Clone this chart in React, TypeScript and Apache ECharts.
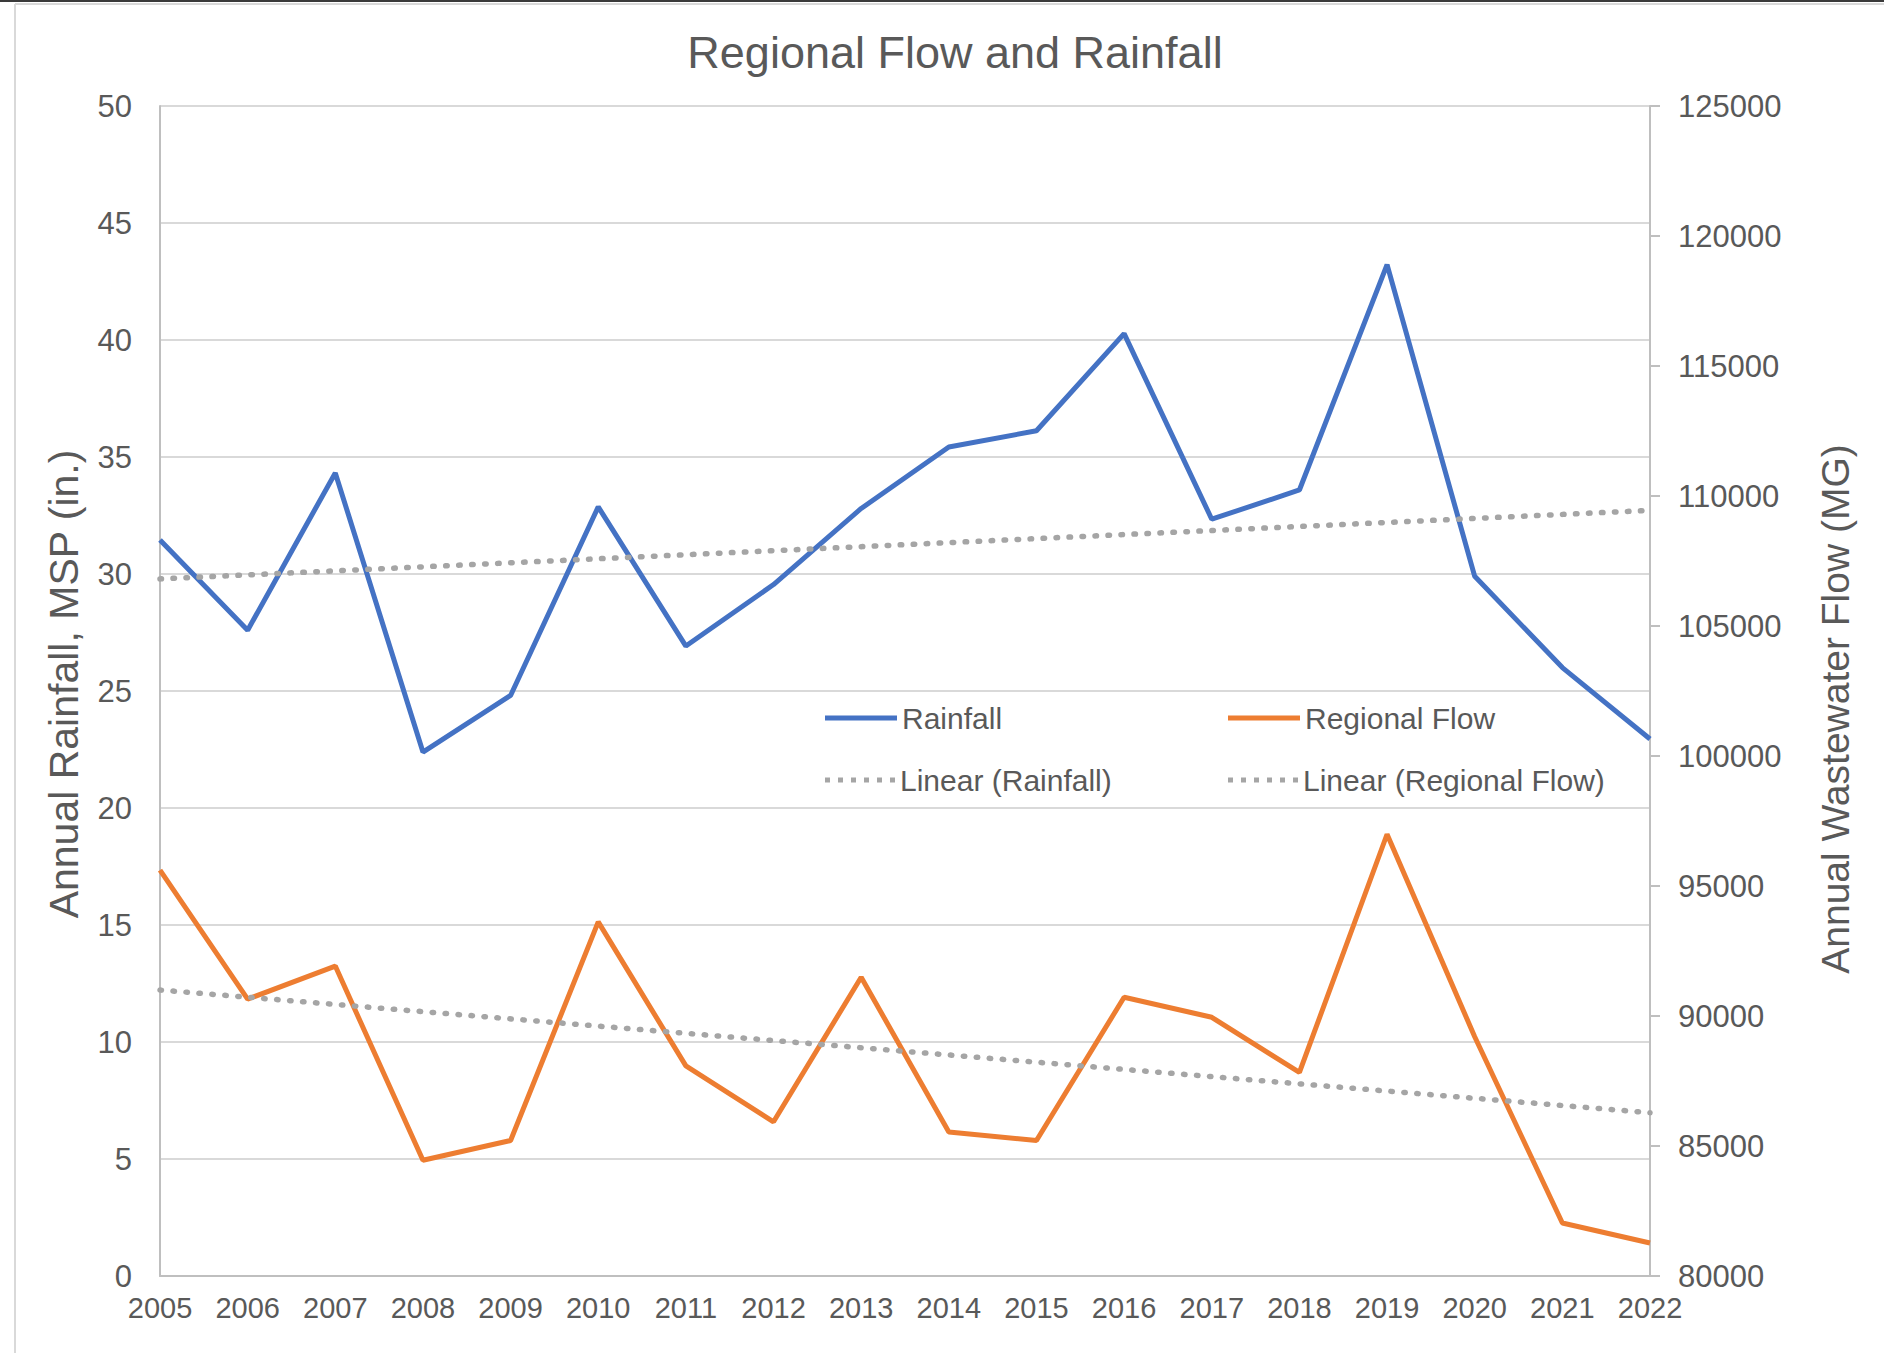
import React, { useEffect, useRef } from "react";
import * as echarts from "echarts";

const years = ["2005", "2006", "2007", "2008", "2009", "2010", "2011", "2012", "2013", "2014", "2015", "2016", "2017", "2018", "2019", "2020", "2021", "2022"];
const rainfall = [31.45, 27.6, 34.32, 22.39, 24.81, 32.87, 26.92, 29.55, 32.8, 35.43, 36.12, 40.27, 32.34, 33.59, 43.22, 29.9, 26.0, 22.95];
const regionalFlow = [95610, 90650, 91920, 84450, 85210, 93620, 88080, 85930, 91490, 85540, 85210, 90720, 89950, 87830, 96990, 89200, 82040, 81270];
const trendYears = ["2005", "2022"];
const rainfallTrend = [29.79, 32.72];
const flowTrend = [91000, 86280];

const FONT = "'Liberation Sans', Arial, sans-serif";
const TEXT = "#595959";
const BLUE = "#4472C4";
const ORANGE = "#ED7D31";
const GRAYDOT = "#A5A5A5";

const SOLID_ICON = "path://M0,0H72V5H0Z";
const DOT_ICON =
  "path://M0,0h5v5h-5z M13,0h5v5h-5z M26,0h5v5h-5z M39,0h5v5h-5z M52,0h5v5h-5z M65,0h5v5h-5z";

export default function App() {
  const ref = useRef<HTMLDivElement>(null);
  useEffect(() => {
    if (!ref.current) return;
    const chart = echarts.init(ref.current, null, { renderer: "svg" });
    const dotted = { width: 5.5, color: GRAYDOT, type: [1.5, 11.5] as number[], cap: "round" as const };
    const legendText = { fontSize: 30, color: TEXT, fontFamily: FONT, lineHeight: 30 };
    const mkLegend = (name: string, icon: string, iconW: number, left: number, top: number) => ({
      data: [{ name, icon }],
      left,
      top,
      padding: 0,
      itemWidth: iconW,
      itemHeight: 5,
      textStyle: legendText,
      selectedMode: false,
    });
    chart.setOption({
      animation: false,
      backgroundColor: "#ffffff",
      textStyle: { fontFamily: FONT },
      title: {
        text: "Regional Flow and Rainfall",
        left: 955,
        top: 30,
        padding: 0,
        textAlign: "center",
        textStyle: { fontSize: 45, fontWeight: "normal", color: TEXT, fontFamily: FONT },
      },
      legend: [
        mkLegend("Rainfall", SOLID_ICON, 72, 825, 703),
        mkLegend("Regional Flow", SOLID_ICON, 72, 1228, 703),
        mkLegend("Linear (Rainfall)", DOT_ICON, 70, 825, 765),
        mkLegend("Linear (Regional Flow)", DOT_ICON, 70, 1228, 765),
      ],
      grid: { left: 160, right: 234, top: 106, bottom: 89, containLabel: false },
      xAxis: {
        type: "category",
        data: years,
        boundaryGap: false,
        axisLine: { lineStyle: { color: "#BFBFBF", width: 2 } },
        axisTick: { show: false },
        axisLabel: { fontSize: 29, color: TEXT, fontFamily: FONT, margin: 17, interval: 0 },
        splitLine: { show: false },
      },
      yAxis: [
        {
          type: "value",
          min: 0,
          max: 50,
          interval: 5,
          axisLine: { show: true, lineStyle: { color: "#BFBFBF", width: 2 } },
          axisTick: { show: false },
          axisLabel: { fontSize: 31, color: TEXT, fontFamily: FONT, margin: 28 },
          splitLine: { show: true, lineStyle: { color: "#D9D9D9", width: 2 } },
        },
        {
          type: "value",
          position: "right",
          min: 80000,
          max: 125000,
          interval: 5000,
          axisLine: { show: true, lineStyle: { color: "#BFBFBF", width: 2 } },
          axisTick: { show: true, length: 10, lineStyle: { color: "#BFBFBF", width: 2 } },
          axisLabel: { fontSize: 31, color: TEXT, fontFamily: FONT, margin: 28, formatter: (v: number) => String(v) },
          splitLine: { show: false },
        },
      ],
      graphic: [
        { type: "line", shape: { x1: 0, y1: 1, x2: 1884, y2: 1 }, style: { stroke: "#3a3a3a", lineWidth: 2 }, silent: true },
        { type: "line", shape: { x1: 15, y1: 4, x2: 1884, y2: 4 }, style: { stroke: "#D9D9D9", lineWidth: 2 }, silent: true },
        { type: "line", shape: { x1: 15, y1: 4, x2: 15, y2: 1353 }, style: { stroke: "#D9D9D9", lineWidth: 2 }, silent: true },
        {
          type: "text",
          x: 64,
          y: 684,
          rotation: Math.PI / 2,
          style: { text: "Annual Rainfall, MSP (in.)", fontSize: 41, fill: TEXT, fontFamily: FONT, textAlign: "center", textVerticalAlign: "middle" },
          silent: true,
        },
        {
          type: "text",
          x: 1835,
          y: 709,
          rotation: Math.PI / 2,
          style: { text: "Annual Wastewater Flow (MG)", fontSize: 39, fill: TEXT, fontFamily: FONT, textAlign: "center", textVerticalAlign: "middle" },
          silent: true,
        },
      ],
      series: [
        {
          name: "Rainfall",
          type: "line",
          yAxisIndex: 0,
          data: rainfall,
          symbol: "none",
          lineStyle: { color: BLUE, width: 5 },
          itemStyle: { color: BLUE },
          z: 3,
        },
        {
          name: "Regional Flow",
          type: "line",
          yAxisIndex: 1,
          data: regionalFlow,
          symbol: "none",
          lineStyle: { color: ORANGE, width: 5 },
          itemStyle: { color: ORANGE },
          z: 3,
        },
        {
          name: "Linear (Rainfall)",
          type: "line",
          yAxisIndex: 0,
          data: trendYears.map((y, i) => [y, rainfallTrend[i]]),
          symbol: "none",
          lineStyle: dotted,
          itemStyle: { color: GRAYDOT },
          z: 4,
        },
        {
          name: "Linear (Regional Flow)",
          type: "line",
          yAxisIndex: 1,
          data: trendYears.map((y, i) => [y, flowTrend[i]]),
          symbol: "none",
          lineStyle: dotted,
          itemStyle: { color: GRAYDOT },
          z: 4,
        },
      ],
    });
    return () => chart.dispose();
  }, []);
  return <div ref={ref} style={{ position: "absolute", left: 0, top: 0, width: 1884, height: 1365 }} />;
}
